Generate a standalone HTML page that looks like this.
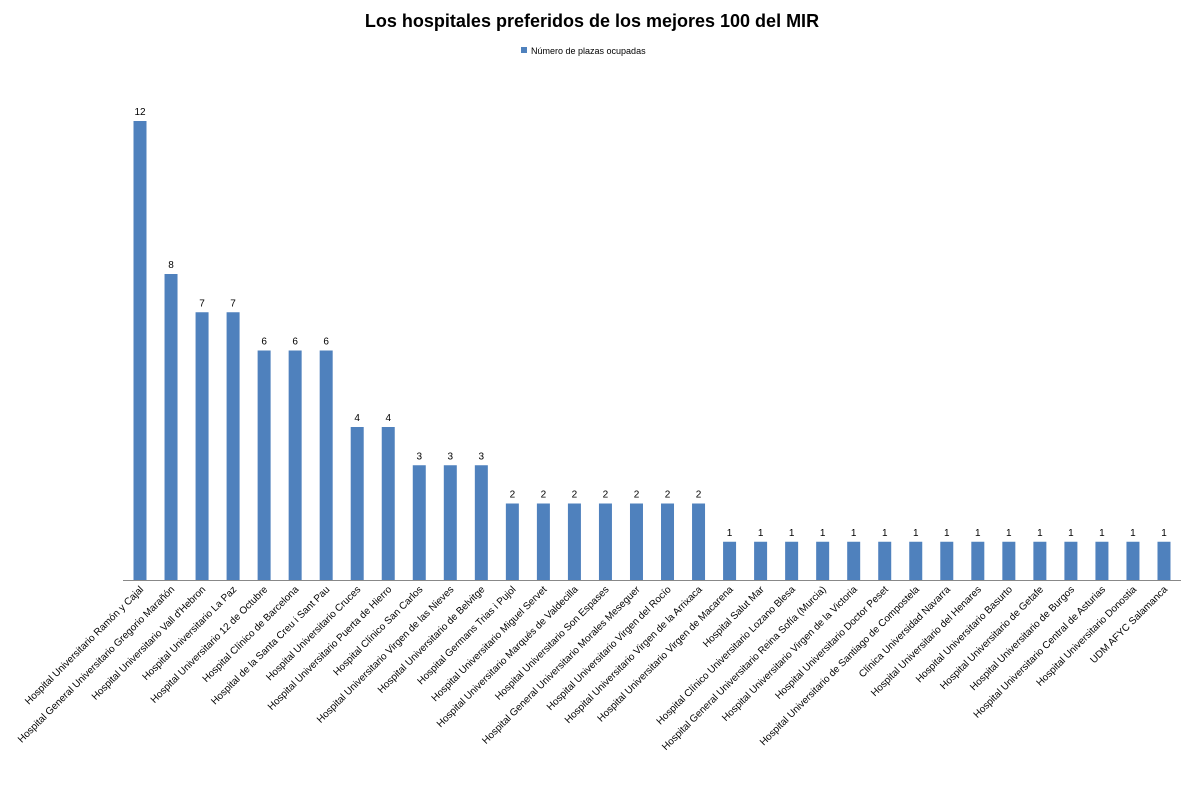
<!DOCTYPE html>
<html><head><meta charset="utf-8"><style>body{margin:0;background:#fff}svg{display:block}</style></head><body>
<svg width="1183" height="797" xmlns="http://www.w3.org/2000/svg" font-family="Liberation Sans, sans-serif">
<rect width="1183" height="797" fill="#fff"/>
<text x="592" y="27" text-anchor="middle" font-size="18" font-weight="bold">Los hospitales preferidos de los mejores 100 del MIR</text>
<rect x="521" y="47" width="6" height="6" fill="#4f81bd"/>
<text x="531" y="54" font-size="9">Número de plazas ocupadas</text>
<line x1="123" y1="580.5" x2="1181" y2="580.5" stroke="#888" stroke-width="1"/>
<g id="bars"></g>
<script>
(function(){
var names=["Hospital Universitario Ramón y Cajal","Hospital General Universitario Gregorio Marañón","Hospital Universitario Vall d'Hebron","Hospital Universitario La Paz","Hospital Universitario 12 de Octubre","Hospital Clínico de Barcelona","Hospital de la Santa Creu i Sant Pau","Hospital Universitario Cruces","Hospital Universitario Puerta de Hierro","Hospital Clínico San Carlos","Hospital Universitario Virgen de las Nieves","Hospital Universitario de Belvitge","Hospital Germans Trias i Pujol","Hospital Universitario Miguel Servet","Hospital Universitario Marqués de Valdecilla","Hospital Universitario Son Espases","Hospital General Universitario Morales Meseguer","Hospital Universitario Virgen del Rocío","Hospital Universitario Virgen de la Arrixaca","Hospital Universitario Virgen de Macarena","Hospital Salut Mar","Hospital Clínico Universitario Lozano Blesa","Hospital General Universitario Reina Sofía (Murcia)","Hospital Universitario Virgen de la Victoria","Hospital Universitario Doctor Peset","Hospital Universitario de Santiago de Compostela","Clínica Universidad Navarra","Hospital Universitario del Henares","Hospital Universitario Basurto","Hospital Universitario de Getafe","Hospital Universitario de Burgos","Hospital Universitario Central de Asturias","Hospital Universitario Donostia","UDM AFYC Salamanca"];
var vals=[12,8,7,7,6,6,6,4,4,3,3,3,2,2,2,2,2,2,2,1,1,1,1,1,1,1,1,1,1,1,1,1,1,1];
var ns="http://www.w3.org/2000/svg",g=document.getElementById("bars");
for(var i=0;i<34;i++){var cx=140+i*31.03,h=vals[i]*38.25,yt=580-h;
var r=document.createElementNS(ns,"rect");r.setAttribute("x",cx-6.5);r.setAttribute("y",yt);r.setAttribute("width",13);r.setAttribute("height",h);r.setAttribute("fill","#4f81bd");g.appendChild(r);
var t=document.createElementNS(ns,"text");t.setAttribute("x",cx);t.setAttribute("y",yt-6);t.setAttribute("text-anchor","middle");t.setAttribute("font-size","10");t.textContent=vals[i];g.appendChild(t);
var l=document.createElementNS(ns,"text");l.setAttribute("text-anchor","end");l.setAttribute("font-size","10");l.setAttribute("transform","translate("+(cx+4)+",590) rotate(-45)");l.textContent=names[i];g.appendChild(l);}
})();
</script>
</svg>
</body></html>
